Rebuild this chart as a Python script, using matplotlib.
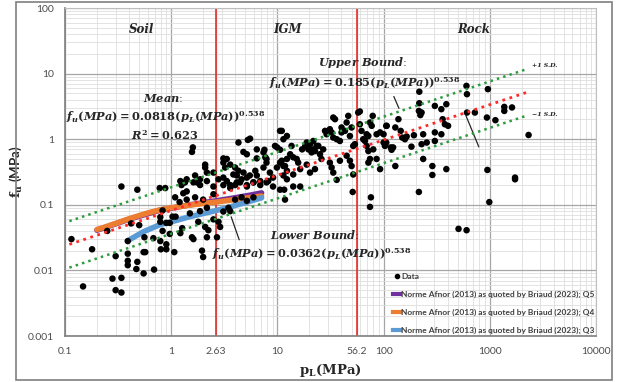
import numpy as np
import matplotlib.pyplot as plt
from matplotlib.ticker import LogLocator, NullFormatter
from matplotlib.patches import Rectangle
from matplotlib.lines import Line2D

plt.rcParams['mathtext.fontset'] = 'custom'
plt.rcParams['mathtext.it'] = 'DejaVu Serif:italic:bold'
plt.rcParams['mathtext.rm'] = 'DejaVu Serif:bold'
plt.rcParams['mathtext.bf'] = 'DejaVu Serif:bold'

# measured data: limit pressure pL (MPa) vs unit side resistance fu (MPa)
pL = [
    0.115, 0.148, 0.18, 0.25, 0.30, 0.28, 0.34, 0.30, 0.34, 0.34, 0.48, 0.78, 0.88, 1.25,
    0.39, 0.39, 0.39, 0.39, 0.47, 0.55, 0.69, 0.48, 0.55, 0.57, 0.56, 0.68, 0.79, 0.80,
    0.90, 0.90, 1.07, 0.42, 0.50, 0.79, 0.79, 0.83, 0.90, 0.97, 1.03, 1.10, 1.22, 1.27,
    1.09, 1.20, 1.30, 0.83, 0.97,
    1.60, 1.57, 4.30, 5.27, 5.53, 10.6, 9.95, 10.6, 4.79, 5.16, 7.55, 6.4, 7.7, 7.9,
    3.1, 3.34, 3.1, 3.6, 3.22, 4.0, 4.3, 4.8, 3.85, 4.15, 5.16, 4.6, 5.5, 6.2, 6.4,
    7.4, 8.5, 9.9, 10.6, 11.4, 12.3, 2.09, 2.17, 2.5, 1.68, 1.75, 1.35, 2.79, 3.1,
    3.34, 3.6, 4.0, 4.46, 5.16, 5.95, 6.9, 8.2, 9.1, 11.4, 12.3,
    1.40, 1.62, 1.87, 2.17, 2.5, 3.1, 3.6, 4.15, 5.16, 5.95, 6.9, 7.9, 9.1, 10.6,
    1.40, 1.68, 2.0, 2.5, 1.87, 2.17, 1.5, 1.8, 2.09, 2.24, 2.5, 2.79, 2.89, 2.7,
    3.1, 3.46, 3.6, 4.0, 4.6, 5.16, 5.95, 1.57, 2.17, 1.62, 1.95, 2.0,
    2.09, 1.87, 1.22, 1.4, 6.4, 7.4, 7.9, 9.5, 12.3, 13.6, 17.1, 18.9, 21.8, 24.3,
    11.0, 11.4, 11.0, 13.2, 14.1, 15.2, 15.7, 11.8, 12.3, 14.1, 16.4, 18.9, 18.3, 19.6,
    20.3, 21.8, 21.0, 22.6, 23.4, 25.2, 27.0, 26.0, 28.1, 29.1, 31.2, 32.4, 33.6, 34.9,
    36.2, 38.8, 40.2, 43.3, 44.9, 46.5, 48.2, 50.0, 51.8, 53.7, 57.7, 59.8, 62.0, 64.3,
    66.8, 69.3, 71.9, 74.5, 77.3, 69.3, 71.9, 80.0, 86.0, 92.7, 107, 100, 44.9, 48.2,
    50.0, 38.8, 31.2, 32.4, 33.6, 22.6, 20.3, 51.8, 71.9, 74.5, 86.0, 92.7,
    51.2, 76, 74.5, 215, 990, 508, 605, 1730, 11.6, 14.1, 16.4, 11.8, 36.2,
    217, 217, 215, 228, 222, 304, 350, 390, 360, 378, 405, 304, 236, 255, 304, 350,
    236, 288, 288, 390, 129, 138, 129, 145, 150, 159, 165, 183, 123, 119, 103, 100,
    603, 610, 960, 610, 724, 940, 1130, 1370, 1370, 1620, 2320, 950, 1730, 193, 228, 106,
    106, 117, 79, 59.8, 33.6, 40.2,
]
fu = [
    0.030, 0.0057, 0.021, 0.040, 0.0165, 0.0075, 0.0077, 0.0050, 0.0046, 0.19, 0.17, 0.18, 0.18, 0.20,
    0.028, 0.018, 0.014, 0.012, 0.0105, 0.0090, 0.0103, 0.0135, 0.019, 0.019, 0.032, 0.031, 0.028, 0.021,
    0.025, 0.021, 0.019, 0.052, 0.049, 0.065, 0.055, 0.082, 0.053, 0.053, 0.066, 0.066, 0.037, 0.044,
    0.13, 0.11, 0.15, 0.040, 0.036,
    0.75, 0.64, 0.89, 0.975, 1.02, 1.34, 0.75, 0.69, 0.64, 0.59, 0.69, 0.51, 0.53, 0.44,
    0.51, 0.50, 0.44, 0.41, 0.37, 0.37, 0.33, 0.31, 0.29, 0.28, 0.26, 0.245, 0.28, 0.33, 0.28,
    0.37, 0.31, 0.37, 0.44, 0.39, 0.50, 0.37, 0.31, 0.31, 0.28, 0.22, 0.22, 0.245, 0.26,
    0.23, 0.20, 0.20, 0.22, 0.20, 0.22, 0.20, 0.23, 0.26, 0.28, 0.245,
    0.245, 0.22, 0.20, 0.23, 0.19, 0.20, 0.18, 0.22, 0.19, 0.22, 0.23, 0.22, 0.19, 0.17,
    0.12, 0.13, 0.12, 0.145, 0.08, 0.09, 0.074, 0.055, 0.046, 0.041, 0.06, 0.055, 0.046, 0.032,
    0.079, 0.09, 0.08, 0.12, 0.13, 0.115, 0.13, 0.032, 0.032, 0.030, 0.020, 0.016,
    0.41, 0.245, 0.23, 0.16, 0.70, 0.63, 0.50, 0.79, 1.12, 0.79, 0.70, 0.89, 0.94, 0.79,
    1.34, 1.0, 0.47, 0.59, 0.53, 0.50, 0.44, 0.39, 0.33, 0.29, 0.35, 0.41, 0.79, 0.70,
    0.84, 0.70, 0.63, 0.66, 0.79, 0.59, 0.70, 0.50, 1.34, 1.19, 1.42, 1.27, 1.06, 2.02,
    1.0, 0.94, 1.27, 1.34, 1.80, 2.27, 1.12, 1.51, 0.79, 0.84, 2.55, 1.69, 1.34, 1.0,
    0.94, 1.19, 1.12, 1.80, 1.60, 0.79, 0.66, 0.70, 1.19, 1.27, 1.60, 0.89, 0.56, 0.47,
    0.39, 0.47, 0.44, 0.37, 0.31, 0.35, 0.31, 0.29, 0.44, 0.50, 0.50, 0.35,
    0.157, 0.13, 0.093, 0.157, 0.11, 0.043, 0.041, 0.245, 0.17, 0.19, 0.19, 0.12, 0.24,
    5.3, 3.54, 2.7, 2.55, 2.33, 3.22, 2.87, 3.42, 2.02, 1.69, 1.60, 1.27, 1.19, 0.89, 0.94, 1.19,
    0.50, 0.39, 0.285, 0.35, 0.39, 2.02, 1.51, 1.34, 1.06, 1.0, 1.10, 0.77, 0.75, 0.69, 0.79, 1.19,
    6.5, 4.86, 5.8, 2.55, 2.55, 2.14, 1.95, 3.11, 2.7, 3.05, 1.16, 0.34, 0.26, 1.15, 0.84, 0.89,
    1.6, 0.75, 2.27, 2.65, 2.14, 1.51,
]

# Norme Afnor (2013) curves as quoted by Briaud (2023)
q5_pL = [0.20, 0.41, 0.79, 1.5, 2.65, 4.0, 5.5, 7.1]
q5_fu = [0.041, 0.061, 0.083, 0.100, 0.115, 0.128, 0.140, 0.152]
q4_pL = [0.20, 0.25, 0.30, 0.41, 0.60, 0.79, 1.0, 1.5, 2.0, 2.65, 3.5, 5.0, 7.1]
q4_fu = [0.042, 0.047, 0.052, 0.062, 0.075, 0.084, 0.090, 0.099, 0.105, 0.110, 0.117, 0.126, 0.136]
q3_pL = [0.40, 0.55, 0.79, 1.0, 1.5, 2.5, 3.5, 5.2, 7.1]
q3_fu = [0.029, 0.039, 0.050, 0.055, 0.066, 0.080, 0.092, 0.110, 0.128]

# fitted power laws fu = a * pL^b
fit_b = 0.538
fit_mean, fit_upper, fit_lower = 0.0818, 0.185, 0.0362
fit_x = np.array([0.11, 2270])

zone_limits = [2.63, 56.2]
xticks = [0.1, 1, 2.63, 10, 56.2, 100, 1000, 10000]
xticklabels = ['0.1', '1', '2.63', '10', '56.2', '100', '1000', '10000']
yticks = [0.001, 0.01, 0.1, 1, 10, 100]
yticklabels = ['0.001', '0.01', '0.1', '1', '10', '100']

fig = plt.figure(figsize=(6.23, 3.82), dpi=100)
ax = fig.add_axes([0.1043, 0.1204, 0.8523, 0.8586])
ax.set_xscale('log')
ax.set_yscale('log')
ax.set_xlim(0.1, 10000)
ax.set_ylim(0.001, 100)
ax.set_xticks(xticks)
ax.set_xticklabels(xticklabels)
ax.set_yticks(yticks)
ax.set_yticklabels(yticklabels)
ax.xaxis.set_minor_locator(LogLocator(base=10, subs=np.arange(2, 10)))
ax.yaxis.set_minor_locator(LogLocator(base=10, subs=np.arange(2, 10)))
ax.xaxis.set_minor_formatter(NullFormatter())
ax.yaxis.set_minor_formatter(NullFormatter())
ax.tick_params(which='both', length=0)
ax.tick_params(axis='both', labelsize=7.5, labelcolor='#4d4d4d', pad=8)
for lab in ax.get_xticklabels() + ax.get_yticklabels():
    lab.set_fontfamily('Lato')
ax.grid(which='major', color='#a6a6a6', lw=0.9)
ax.grid(which='minor', color='#dedede', lw=0.6)
ax.set_axisbelow(True)
for s in ['left', 'bottom']:
    ax.spines[s].set_color('#7f7f7f')
    ax.spines[s].set_linewidth(1.2)
for s in ['top', 'right']:
    ax.spines[s].set_color('#bfbfbf')
    ax.spines[s].set_linewidth(0.8)

for xv in zone_limits:
    ax.axvline(xv, color='#e8302a', lw=1.2, zorder=2)

ax.plot(q5_pL, q5_fu, color='#7030a0', lw=4, solid_capstyle='round', zorder=3)
ax.plot(q4_pL, q4_fu, color='#ed7d31', lw=4, solid_capstyle='round', zorder=3)
ax.plot(q3_pL, q3_fu, color='#5b9bd5', lw=4, solid_capstyle='round', zorder=3)

ax.scatter(pL, fu, s=22, c='black', edgecolors='none', zorder=4)

ax.plot(fit_x, fit_upper * fit_x ** fit_b, ls=':', color='#2e9b3e', lw=1.8, zorder=5)
ax.plot(fit_x, fit_mean * fit_x ** fit_b, ls=':', color='#ff2a2a', lw=2.0, zorder=5)
ax.plot(fit_x, fit_lower * fit_x ** fit_b, ls=':', color='#2e9b3e', lw=1.8, zorder=5)

zone_kw = dict(transform=ax.transAxes, family='DejaVu Serif', style='italic',
               weight='bold', fontsize=8.5, color='#262626', ha='center', va='center')
ax.text(0.145, 0.936, 'Soil', **zone_kw)
ax.text(0.42, 0.936, 'IGM', **zone_kw)
ax.text(0.770, 0.936, 'Rock', **zone_kw)

eq_kw = dict(transform=ax.transAxes, fontsize=8.2, color='#262626', va='center')
ax.text(0.185, 0.725, r'$Mean$:', ha='center', **eq_kw)
ax.text(0.19, 0.666, r'$f_u(MPa) = 0.0818(p_L(MPa))^{0.538}$', ha='center', **eq_kw)
ax.text(0.188, 0.612, r'$R^2 = 0.623$', ha='center', **eq_kw)
ax.text(0.561, 0.835, r'$Upper\ Bound$:', ha='center', **eq_kw)
ax.text(0.565, 0.772, r'$f_u(MPa) = 0.185(p_L(MPa))^{0.538}$', ha='center', **eq_kw)
ax.text(0.386, 0.308, r'$Lower\ Bound$:', ha='left', **eq_kw)
ax.text(0.465, 0.250, r'$f_u(MPa) = 0.0362(p_L(MPa))^{0.538}$', ha='center', **eq_kw)

sd_kw = dict(transform=ax.transAxes, family='DejaVu Serif', style='italic',
             weight='bold', fontsize=4.5, color='#262626', ha='left', va='center')
ax.text(0.88, 0.826, '+1 S.D.', **sd_kw)
ax.text(0.88, 0.674, '\u22121 S.D.', **sd_kw)

arrow = dict(arrowstyle='-', color='#262626', lw=0.9)
ax.annotate('', xy=(143, 2.7), xytext=(122, 4.9), arrowprops=arrow)
ax.annotate('', xy=(3.6, 0.072), xytext=(4.46, 0.0267), arrowprops=arrow)
ax.annotate('', xy=(583, 2.5), xytext=(807, 0.70), arrowprops=arrow)

handles = [
    Line2D([], [], ls='none', marker='o', color='black', markersize=3),
    Line2D([], [], color='#7030a0', lw=3),
    Line2D([], [], color='#ed7d31', lw=3),
    Line2D([], [], color='#5b9bd5', lw=3),
]
labels = ['Data',
          'Norme Afnor (2013) as quoted by Briaud (2023); Q5',
          'Norme Afnor (2013) as quoted by Briaud (2023); Q4',
          'Norme Afnor (2013) as quoted by Briaud (2023); Q3']
leg = ax.legend(handles, labels, loc='lower right', bbox_to_anchor=(1.0, 0.0),
                frameon=False, borderpad=0.2, borderaxespad=0.0, handlelength=0.8,
                handletextpad=0.1, labelspacing=1.3, alignment='left',
                prop={'family': 'Lato', 'weight': 'bold', 'size': 6})
for t in leg.get_texts():
    t.set_color('#404040')

ax.set_xlabel(r'$\mathbf{p_L}$(MPa)', family='DejaVu Serif', weight='bold',
              fontsize=9.5, color='#262626', labelpad=4)
ax.set_ylabel(r'$\mathbf{f_u}$ (MPa)', family='Lato', weight='bold',
              fontsize=9.5, color='#262626', labelpad=3)

fig.add_artist(Rectangle((16 / 623, 2 / 382), 596 / 623, 378 / 382,
                         transform=fig.transFigure, fill=False,
                         edgecolor='#7f7f7f', lw=1.2))

fig.savefig('out.png', dpi=100)
